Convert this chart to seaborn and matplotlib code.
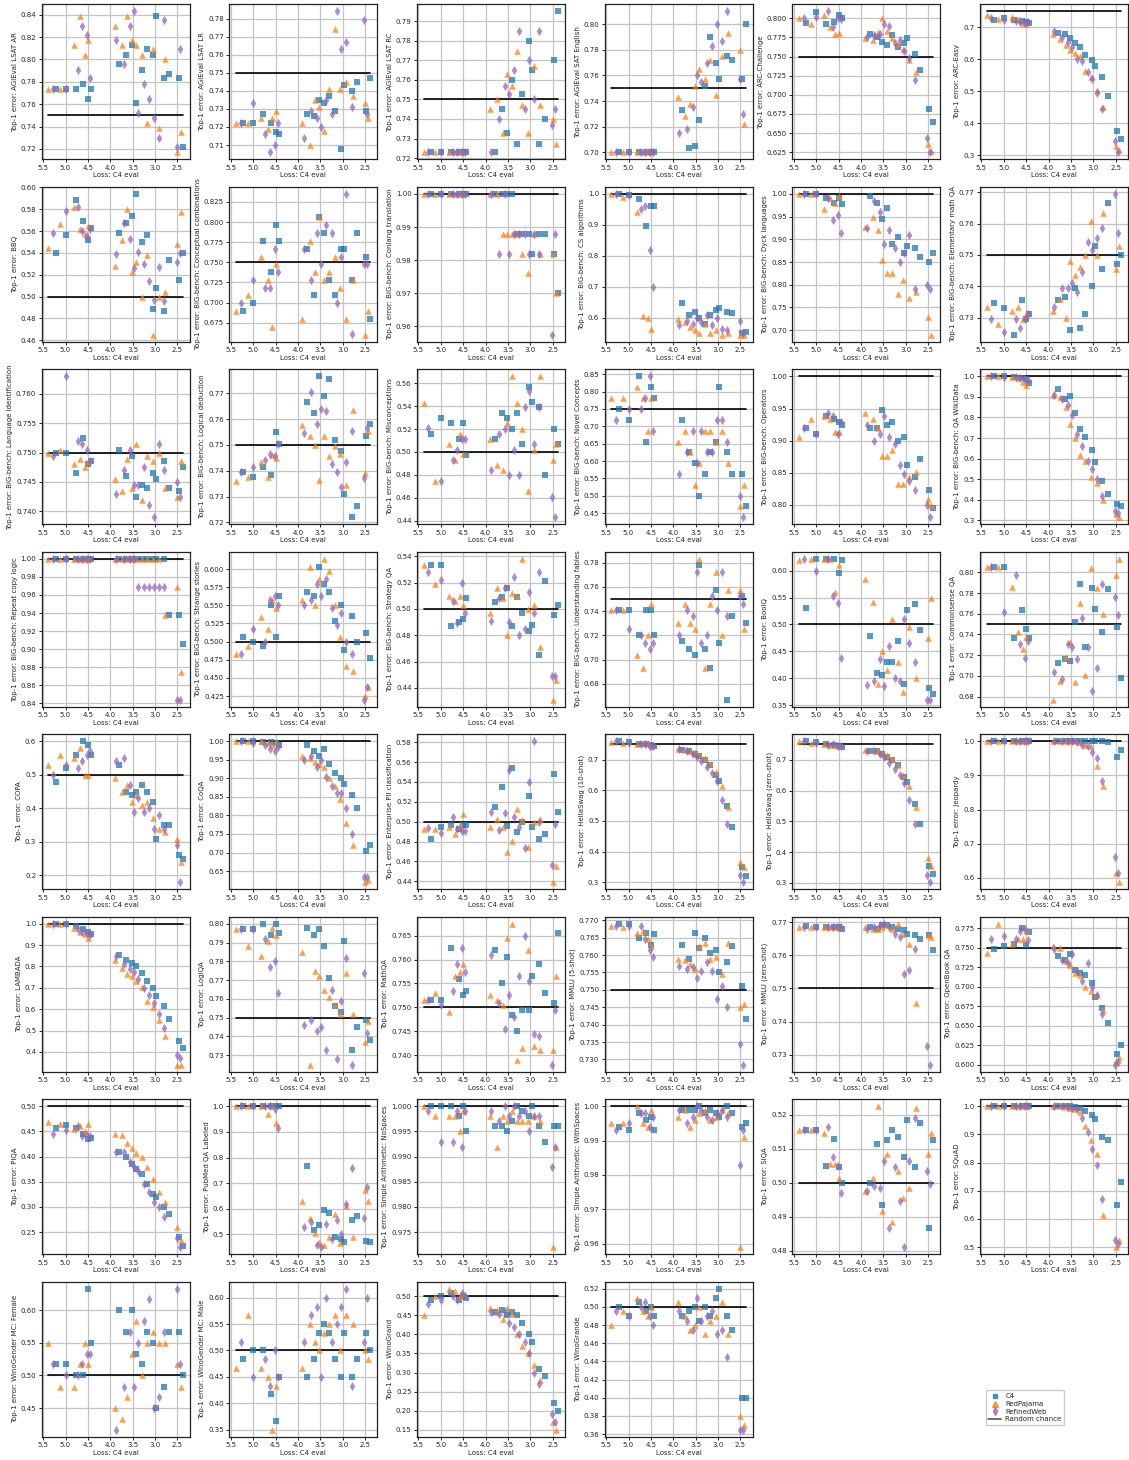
import matplotlib
matplotlib.use("Agg")
import matplotlib.pyplot as plt
from matplotlib.lines import Line2D
import seaborn as sns

# ── DATA ───────────────────────────────────────────────────────────────────
# x = loss on C4 eval, one entry per trained model (same models on every task)
C4_X = [5.22, 5.0, 4.77, 4.6, 4.5, 4.43, 3.8, 3.64, 3.52, 3.42, 3.3, 3.18, 3.04, 2.97, 2.8, 2.68, 2.47, 2.38]
RP_X = [5.38, 5.12, 4.82, 4.68, 4.57, 4.5, 3.9, 3.74, 3.62, 3.52, 3.42, 3.3, 3.18, 3.05, 2.92, 2.78, 2.5, 2.43]
RW_X = [5.28, 5.0, 4.73, 4.63, 4.52, 4.45, 3.87, 3.7, 3.57, 3.48, 3.37, 3.25, 3.13, 3.03, 2.92, 2.8, 2.52, 2.45]

TASKS = [
    "AGIEval LSAT AR", "AGIEval LSAT LR", "AGIEval LSAT RC", "AGIEval SAT English", "ARC-Challenge", "ARC-Easy",
    "BBQ", "BIG-bench: Conceptual combinations", "BIG-bench: Conlang translation", "BIG-bench: CS algorithms",
    "BIG-bench: Dyck languages", "BIG-bench: Elementary math QA",
    "BIG-bench: Language identification", "BIG-bench: Logical deduction", "BIG-bench: Misconceptions",
    "BIG-bench: Novel Concepts", "BIG-bench: Operators", "BIG-bench: QA WikiData",
    "BIG-bench: Repeat copy logic", "BIG-bench: Strange stories", "BIG-bench: Strategy QA",
    "BIG-bench: Understanding fables", "BoolQ", "Commonsense QA",
    "COPA", "CoQA", "Enterprise PII classification", "HellaSwag (10-shot)", "HellaSwag (zero-shot)", "Jeopardy",
    "LAMBADA", "LogiQA", "MathQA", "MMLU (5-shot)", "MMLU (zero-shot)", "OpenBook QA",
    "PIQA", "PubMed QA Labeled", "Simple Arithmetic: NoSpaces", "Simple Arithmetic: WithSpaces", "SIQA", "SQuAD",
    "WinoGender MC: Female", "WinoGender MC: Male", "WinoGrand", "WinoGrande",
]

CHANCE = [0.75, 0.75, 0.75, 0.75, 0.75, 0.75,
          0.5, 0.75, 1.0, 1.0, 1.0, 0.75,
          0.75, 0.75, 0.5, 0.75, 1.0, 1.0,
          1.0, 0.5, 0.5, 0.75, 0.5, 0.75,
          0.5, 1.0, 0.5, 0.75, 0.75, 1.0,
          1.0, 0.75, 0.75, 0.75, 0.75, 0.75,
          0.5, 1.0, 1.0, 1.0, 0.5, 1.0,
          0.5, 0.5, 0.5, 0.5]

# top-1 error per task (rows follow TASKS), C4-trained models
C4_ERR = [
    [0.774, 0.774, 0.774, 0.778, 0.765, 0.774, 0.796, 0.804, 0.813, 0.761, 0.791, 0.809, 0.804, 0.839, 0.783, 0.787, 0.783, 0.722],
    [0.722, 0.722, 0.727, 0.722, 0.717, 0.716, 0.727, 0.726, 0.735, 0.733, 0.737, 0.729, 0.708, 0.743, 0.740, 0.745, 0.729, 0.747],
    [0.723, 0.723, 0.723, 0.723, 0.723, 0.723, 0.723, 0.745, 0.733, 0.760, 0.727, 0.753, 0.780, 0.765, 0.727, 0.740, 0.770, 0.795],
    [0.700, 0.700, 0.700, 0.700, 0.700, 0.700, 0.733, 0.703, 0.705, 0.725, 0.752, 0.790, 0.770, 0.757, 0.775, 0.772, 0.757, 0.800],
    [0.794, 0.808, 0.793, 0.795, 0.804, 0.801, 0.779, 0.776, 0.769, 0.765, 0.778, 0.763, 0.768, 0.774, 0.754, 0.732, 0.682, 0.664],
    [0.723, 0.730, 0.722, 0.720, 0.718, 0.715, 0.683, 0.680, 0.667, 0.652, 0.640, 0.613, 0.597, 0.580, 0.545, 0.485, 0.375, 0.352],
    [0.540, 0.556, 0.588, 0.569, 0.552, 0.563, 0.558, 0.567, 0.574, 0.594, 0.550, 0.556, 0.489, 0.508, 0.487, 0.533, 0.515, 0.540],
    [0.690, 0.699, 0.777, 0.738, 0.796, 0.777, 0.767, 0.709, 0.806, 0.786, 0.728, 0.709, 0.767, 0.767, 0.728, 0.786, 0.757, 0.680],
    [1.0, 1.0, 1.0, 1.0, 1.0, 1.0, 1.0, 1.0, 1.0, 1.0, 0.988, 0.988, 0.988, 0.982, 0.988, 0.988, 0.982, 0.970],
    [1.0, 0.997, 0.985, 0.895, 0.960, 0.962, 0.648, 0.610, 0.620, 0.600, 0.580, 0.610, 0.625, 0.630, 0.620, 0.615, 0.550, 0.555],
    [1.0, 1.0, 0.990, 0.980, 0.990, 0.978, 0.995, 0.980, 0.945, 0.970, 0.890, 0.905, 0.870, 0.885, 0.880, 0.860, 0.850, 0.870],
    [0.7345, 0.733, 0.7245, 0.7355, 0.7295, 0.731, 0.7355, 0.7365, 0.726, 0.7395, 0.7265, 0.731, 0.740, 0.753, 0.7455, 0.7665, 0.747, 0.750],
    [0.750, 0.750, 0.7465, 0.7525, 0.748, 0.7485, 0.7505, 0.746, 0.7495, 0.7425, 0.7445, 0.744, 0.7465, 0.7455, 0.7485, 0.744, 0.7435, 0.7475],
    [0.7395, 0.7375, 0.7415, 0.7385, 0.755, 0.7505, 0.7665, 0.7625, 0.7765, 0.769, 0.7755, 0.752, 0.7475, 0.731, 0.722, 0.7265, 0.7535, 0.758],
    [0.516, 0.530, 0.525, 0.511, 0.525, 0.497, 0.511, 0.534, 0.530, 0.520, 0.534, 0.507, 0.557, 0.544, 0.539, 0.480, 0.520, 0.507],
    [0.750, 0.719, 0.844, 0.656, 0.812, 0.781, 0.719, 0.625, 0.594, 0.500, 0.5625, 0.625, 0.656, 0.812, 0.625, 0.5625, 0.5625, 0.469],
    [0.919, 0.910, 0.938, 0.933, 0.929, 0.924, 0.919, 0.919, 0.948, 0.924, 0.929, 0.900, 0.905, 0.862, 0.843, 0.871, 0.824, 0.795],
    [1.0, 1.0, 0.998, 0.990, 0.985, 0.970, 0.940, 0.890, 0.905, 0.820, 0.745, 0.705, 0.640, 0.585, 0.490, 0.430, 0.380, 0.370],
    [1.0, 1.0, 1.0, 1.0, 1.0, 1.0, 1.0, 1.0, 1.0, 1.0, 1.0, 1.0, 1.0, 1.0, 1.0, 0.9375, 0.9375, 0.906],
    [0.506, 0.500, 0.494, 0.551, 0.506, 0.563, 0.569, 0.563, 0.603, 0.580, 0.569, 0.529, 0.551, 0.488, 0.535, 0.500, 0.512, 0.477],
    [0.533, 0.533, 0.487, 0.490, 0.492, 0.508, 0.505, 0.509, 0.516, 0.487, 0.509, 0.497, 0.483, 0.488, 0.465, 0.521, 0.495, 0.503],
    [0.741, 0.741, 0.720, 0.741, 0.741, 0.720, 0.715, 0.709, 0.704, 0.778, 0.709, 0.693, 0.757, 0.714, 0.667, 0.736, 0.752, 0.730],
    [0.530, 0.622, 0.622, 0.622, 0.595, 0.620, 0.478, 0.410, 0.405, 0.430, 0.430, 0.470, 0.390, 0.527, 0.538, 0.490, 0.382, 0.370],
    [0.805, 0.805, 0.737, 0.764, 0.745, 0.737, 0.712, 0.716, 0.714, 0.752, 0.789, 0.728, 0.785, 0.765, 0.742, 0.784, 0.747, 0.698],
    [0.48, 0.52, 0.56, 0.60, 0.59, 0.56, 0.53, 0.45, 0.44, 0.45, 0.47, 0.45, 0.42, 0.31, 0.35, 0.35, 0.26, 0.25],
    [1.0, 1.0, 0.998, 0.998, 0.995, 0.990, 0.990, 0.975, 0.960, 0.978, 0.938, 0.915, 0.900, 0.885, 0.855, 0.820, 0.705, 0.720],
    [0.483, 0.495, 0.497, 0.493, 0.497, 0.497, 0.515, 0.535, 0.496, 0.554, 0.490, 0.500, 0.526, 0.495, 0.483, 0.488, 0.548, 0.510],
    [0.760, 0.758, 0.750, 0.750, 0.748, 0.745, 0.733, 0.728, 0.720, 0.713, 0.700, 0.683, 0.650, 0.630, 0.550, 0.480, 0.350, 0.320],
    [0.760, 0.758, 0.750, 0.748, 0.745, 0.743, 0.730, 0.728, 0.718, 0.710, 0.700, 0.683, 0.645, 0.628, 0.555, 0.490, 0.355, 0.330],
    [1.0, 1.0, 1.0, 1.0, 1.0, 1.0, 1.0, 1.0, 1.0, 1.0, 1.0, 1.0, 1.0, 1.0, 1.0, 0.998, 0.955, 0.975],
    [1.0, 1.0, 0.990, 0.975, 0.960, 0.950, 0.855, 0.830, 0.815, 0.800, 0.770, 0.730, 0.700, 0.660, 0.615, 0.555, 0.450, 0.420],
    [0.797, 0.797, 0.800, 0.794, 0.800, 0.795, 0.798, 0.794, 0.797, 0.788, 0.771, 0.756, 0.753, 0.791, 0.733, 0.745, 0.749, 0.738],
    [0.7515, 0.7515, 0.7625, 0.756, 0.7525, 0.7535, 0.762, 0.755, 0.7605, 0.7485, 0.745, 0.7495, 0.7495, 0.7565, 0.759, 0.753, 0.751, 0.7655],
    [0.769, 0.769, 0.765, 0.7665, 0.763, 0.766, 0.763, 0.759, 0.7665, 0.762, 0.765, 0.7605, 0.7615, 0.755, 0.758, 0.7625, 0.751, 0.7415],
    [0.7687, 0.7685, 0.7685, 0.7685, 0.7685, 0.768, 0.7685, 0.768, 0.769, 0.769, 0.7685, 0.768, 0.7675, 0.7665, 0.766, 0.765, 0.766, 0.7615],
    [0.748, 0.752, 0.755, 0.776, 0.754, 0.770, 0.740, 0.735, 0.742, 0.722, 0.718, 0.715, 0.705, 0.687, 0.673, 0.654, 0.614, 0.625],
    [0.457, 0.462, 0.457, 0.445, 0.435, 0.437, 0.409, 0.400, 0.385, 0.375, 0.365, 0.345, 0.325, 0.320, 0.300, 0.285, 0.240, 0.222],
    [1.0, 1.0, 1.0, 1.0, 1.0, 1.0, 0.765, 0.515, 0.535, 0.595, 0.585, 0.490, 0.480, 0.470, 0.555, 0.570, 0.475, 0.470],
    [1.0, 1.0, 1.0, 0.998, 1.0, 0.995, 0.996, 0.996, 0.995, 0.997, 1.0, 0.999, 0.998, 1.0, 0.996, 0.993, 0.996, 0.996],
    [0.994, 0.993, 0.998, 0.996, 0.997, 0.993, 0.999, 0.999, 0.999, 1.0, 0.998, 0.999, 0.998, 0.997, 1.0, 0.998, 0.994, 0.995],
    [0.5155, 0.5155, 0.505, 0.513, 0.5045, 0.500, 0.500, 0.5115, 0.4935, 0.5125, 0.5155, 0.5135, 0.5075, 0.5185, 0.5045, 0.5175, 0.4865, 0.5125],
    [1.0, 1.0, 1.0, 1.0, 1.0, 1.0, 1.0, 1.0, 1.0, 0.998, 0.995, 0.985, 0.970, 0.955, 0.890, 0.880, 0.650, 0.730],
    [0.517, 0.517, 0.500, 0.500, 0.633, 0.550, 0.600, 0.567, 0.600, 0.533, 0.517, 0.567, 0.550, 0.450, 0.483, 0.567, 0.567, 0.500],
    [0.483, 0.500, 0.500, 0.417, 0.367, 0.450, 0.450, 0.483, 0.533, 0.550, 0.533, 0.483, 0.450, 0.533, 0.450, 0.483, 0.533, 0.500],
    [0.49, 0.50, 0.51, 0.49, 0.50, 0.495, 0.46, 0.465, 0.45, 0.46, 0.45, 0.43, 0.40, 0.38, 0.31, 0.29, 0.22, 0.20],
    [0.50, 0.49, 0.505, 0.495, 0.50, 0.49, 0.49, 0.495, 0.50, 0.485, 0.50, 0.49, 0.51, 0.52, 0.49, 0.475, 0.40, 0.40],
]

# RedPajama-trained models
RP_ERR = [
    [0.774, 0.774, 0.813, 0.839, 0.804, 0.817, 0.830, 0.813, 0.839, 0.817, 0.813, 0.804, 0.743, 0.809, 0.739, 0.800, 0.717, 0.735],
    [0.722, 0.722, 0.725, 0.719, 0.725, 0.729, 0.722, 0.710, 0.735, 0.731, 0.718, 0.741, 0.774, 0.741, 0.745, 0.737, 0.733, 0.725],
    [0.723, 0.723, 0.723, 0.723, 0.723, 0.723, 0.745, 0.750, 0.733, 0.763, 0.757, 0.775, 0.747, 0.733, 0.767, 0.747, 0.740, 0.727],
    [0.700, 0.700, 0.700, 0.700, 0.700, 0.700, 0.743, 0.728, 0.738, 0.752, 0.765, 0.757, 0.772, 0.745, 0.775, 0.793, 0.780, 0.722],
    [0.800, 0.792, 0.804, 0.789, 0.780, 0.781, 0.774, 0.772, 0.782, 0.800, 0.783, 0.774, 0.766, 0.760, 0.745, 0.730, 0.636, 0.626],
    [0.740, 0.725, 0.732, 0.725, 0.715, 0.710, 0.680, 0.665, 0.645, 0.628, 0.620, 0.612, 0.565, 0.545, 0.505, 0.450, 0.330, 0.318],
    [0.544, 0.566, 0.582, 0.562, 0.557, 0.565, 0.528, 0.552, 0.580, 0.522, 0.532, 0.500, 0.538, 0.465, 0.500, 0.504, 0.548, 0.577],
    [0.689, 0.709, 0.757, 0.728, 0.670, 0.748, 0.680, 0.777, 0.738, 0.806, 0.728, 0.738, 0.757, 0.718, 0.680, 0.728, 0.660, 0.689],
    [1.0, 1.0, 1.0, 1.0, 1.0, 1.0, 1.0, 1.0, 0.988, 0.988, 0.988, 0.988, 0.982, 0.976, 0.988, 0.982, 0.982, 0.970],
    [1.0, 0.990, 0.943, 0.605, 0.600, 0.565, 0.595, 0.585, 0.570, 0.560, 0.550, 0.580, 0.550, 0.560, 0.545, 0.550, 0.545, 0.545],
    [1.0, 1.0, 0.967, 0.990, 0.980, 0.995, 0.928, 0.950, 0.920, 0.855, 0.825, 0.825, 0.780, 0.810, 0.770, 0.785, 0.730, 0.690],
    [0.7335, 0.728, 0.732, 0.7335, 0.7295, 0.731, 0.732, 0.736, 0.730, 0.748, 0.7435, 0.746, 0.750, 0.761, 0.750, 0.7635, 0.7455, 0.753],
    [0.750, 0.7505, 0.748, 0.749, 0.7475, 0.7485, 0.7455, 0.7435, 0.749, 0.744, 0.7515, 0.742, 0.7495, 0.7485, 0.750, 0.744, 0.7425, 0.7485],
    [0.736, 0.7375, 0.7435, 0.7375, 0.746, 0.745, 0.7575, 0.7535, 0.750, 0.7365, 0.7535, 0.7455, 0.7495, 0.7465, 0.7345, 0.7635, 0.739, 0.7555],
    [0.543, 0.475, 0.507, 0.493, 0.516, 0.498, 0.511, 0.489, 0.484, 0.525, 0.566, 0.543, 0.520, 0.466, 0.502, 0.566, 0.493, 0.507],
    [0.781, 0.781, 0.812, 0.781, 0.6875, 0.781, 0.656, 0.6875, 0.625, 0.531, 0.594, 0.6875, 0.6875, 0.656, 0.6875, 0.594, 0.469, 0.531],
    [0.905, 0.933, 0.938, 0.933, 0.914, 0.914, 0.943, 0.933, 0.919, 0.876, 0.876, 0.886, 0.833, 0.833, 0.843, 0.852, 0.810, 0.800],
    [1.0, 1.0, 0.995, 0.990, 0.975, 0.960, 0.910, 0.900, 0.850, 0.770, 0.700, 0.620, 0.590, 0.510, 0.480, 0.400, 0.330, 0.315],
    [1.0, 1.0, 1.0, 1.0, 1.0, 1.0, 1.0, 1.0, 1.0, 1.0, 1.0, 1.0, 1.0, 1.0, 1.0, 0.9375, 0.969, 0.875],
    [0.483, 0.494, 0.534, 0.517, 0.557, 0.546, 0.557, 0.603, 0.551, 0.586, 0.614, 0.597, 0.551, 0.506, 0.466, 0.460, 0.425, 0.437],
    [0.533, 0.519, 0.510, 0.506, 0.510, 0.503, 0.497, 0.516, 0.508, 0.480, 0.512, 0.510, 0.538, 0.500, 0.503, 0.471, 0.431, 0.446],
    [0.741, 0.741, 0.704, 0.693, 0.720, 0.746, 0.730, 0.746, 0.730, 0.725, 0.783, 0.693, 0.746, 0.772, 0.720, 0.757, 0.757, 0.725],
    [0.620, 0.622, 0.622, 0.622, 0.560, 0.610, 0.585, 0.541, 0.390, 0.450, 0.415, 0.510, 0.430, 0.375, 0.495, 0.400, 0.475, 0.550],
    [0.805, 0.805, 0.786, 0.742, 0.726, 0.738, 0.677, 0.695, 0.718, 0.733, 0.694, 0.770, 0.701, 0.804, 0.785, 0.760, 0.797, 0.813],
    [0.53, 0.56, 0.55, 0.58, 0.50, 0.50, 0.49, 0.45, 0.47, 0.42, 0.44, 0.41, 0.42, 0.37, 0.34, 0.33, 0.31, 0.24],
    [1.0, 1.0, 1.0, 0.995, 0.990, 0.997, 0.960, 0.955, 0.945, 0.940, 0.930, 0.900, 0.880, 0.845, 0.780, 0.720, 0.620, 0.625],
    [0.493, 0.493, 0.495, 0.488, 0.497, 0.508, 0.495, 0.503, 0.495, 0.469, 0.481, 0.513, 0.502, 0.474, 0.500, 0.503, 0.439, 0.455],
    [0.758, 0.756, 0.752, 0.755, 0.750, 0.745, 0.735, 0.733, 0.730, 0.725, 0.715, 0.705, 0.685, 0.660, 0.615, 0.545, 0.365, 0.350],
    [0.760, 0.756, 0.750, 0.748, 0.748, 0.745, 0.733, 0.733, 0.728, 0.722, 0.715, 0.702, 0.682, 0.652, 0.615, 0.548, 0.380, 0.355],
    [1.0, 1.0, 1.0, 1.0, 1.0, 1.0, 1.0, 1.0, 1.0, 1.0, 1.0, 0.997, 0.990, 0.985, 0.928, 0.870, 0.615, 0.587],
    [1.0, 1.0, 0.980, 0.960, 0.950, 0.935, 0.830, 0.795, 0.765, 0.755, 0.730, 0.705, 0.640, 0.610, 0.550, 0.475, 0.340, 0.340],
    [0.797, 0.788, 0.783, 0.791, 0.798, 0.794, 0.785, 0.725, 0.775, 0.772, 0.765, 0.761, 0.757, 0.752, 0.774, 0.752, 0.737, 0.748],
    [0.7515, 0.753, 0.749, 0.7565, 0.7575, 0.759, 0.7525, 0.7515, 0.7505, 0.7645, 0.7675, 0.739, 0.7415, 0.762, 0.742, 0.741, 0.741, 0.7565],
    [0.7685, 0.768, 0.7665, 0.767, 0.7645, 0.7625, 0.759, 0.7585, 0.7575, 0.756, 0.7625, 0.7635, 0.759, 0.7595, 0.7545, 0.7635, 0.745, 0.746],
    [0.7685, 0.7685, 0.7685, 0.7685, 0.7685, 0.7685, 0.7685, 0.768, 0.768, 0.7685, 0.769, 0.768, 0.7695, 0.7665, 0.7635, 0.7455, 0.766, 0.7655],
    [0.744, 0.781, 0.755, 0.762, 0.762, 0.772, 0.752, 0.750, 0.733, 0.728, 0.718, 0.715, 0.700, 0.695, 0.690, 0.670, 0.605, 0.610],
    [0.469, 0.465, 0.455, 0.460, 0.450, 0.465, 0.444, 0.443, 0.428, 0.418, 0.408, 0.400, 0.380, 0.355, 0.330, 0.310, 0.260, 0.235],
    [1.0, 1.0, 1.0, 0.970, 1.0, 0.935, 0.630, 0.565, 0.505, 0.470, 0.460, 0.490, 0.580, 0.465, 0.610, 0.490, 0.675, 0.630],
    [1.0, 0.998, 0.998, 0.998, 0.995, 0.999, 0.998, 0.992, 0.998, 0.997, 0.999, 0.997, 0.997, 0.997, 0.998, 0.997, 0.972, 0.992],
    [0.995, 0.995, 1.0, 0.995, 0.994, 0.999, 0.997, 0.999, 0.994, 0.996, 0.998, 0.999, 0.996, 0.997, 0.999, 0.998, 0.959, 0.991],
    [0.5155, 0.5155, 0.5145, 0.5055, 0.5055, 0.5015, 0.4975, 0.5015, 0.5225, 0.4915, 0.5085, 0.4885, 0.5035, 0.4955, 0.4985, 0.522, 0.5085, 0.5145],
    [1.0, 1.0, 1.0, 1.0, 1.0, 1.0, 1.0, 1.0, 0.998, 0.995, 0.990, 0.980, 0.930, 0.880, 0.830, 0.615, 0.500, 0.525],
    [0.550, 0.483, 0.483, 0.517, 0.550, 0.517, 0.450, 0.433, 0.467, 0.533, 0.583, 0.500, 0.550, 0.567, 0.550, 0.550, 0.517, 0.483],
    [0.467, 0.567, 0.467, 0.450, 0.350, 0.433, 0.467, 0.550, 0.517, 0.500, 0.533, 0.550, 0.567, 0.500, 0.567, 0.550, 0.500, 0.483],
    [0.45, 0.50, 0.52, 0.515, 0.50, 0.505, 0.47, 0.465, 0.44, 0.47, 0.455, 0.40, 0.37, 0.35, 0.32, 0.28, 0.17, 0.15],
    [0.48, 0.495, 0.51, 0.495, 0.49, 0.50, 0.505, 0.49, 0.475, 0.48, 0.50, 0.47, 0.485, 0.49, 0.505, 0.47, 0.38, 0.37],
]

# RefinedWeb-trained models
RW_ERR = [
    [0.774, 0.774, 0.791, 0.830, 0.822, 0.783, 0.817, 0.796, 0.830, 0.843, 0.752, 0.778, 0.765, 0.748, 0.730, 0.835, 0.722, 0.809],
    [0.722, 0.733, 0.716, 0.706, 0.710, 0.722, 0.714, 0.729, 0.725, 0.720, 0.735, 0.727, 0.784, 0.763, 0.767, 0.731, 0.779, 0.727],
    [0.723, 0.723, 0.723, 0.723, 0.723, 0.723, 0.723, 0.740, 0.757, 0.753, 0.765, 0.785, 0.745, 0.770, 0.750, 0.785, 0.737, 0.745],
    [0.700, 0.700, 0.700, 0.700, 0.700, 0.700, 0.715, 0.718, 0.735, 0.760, 0.755, 0.770, 0.783, 0.800, 0.787, 0.810, 0.757, 0.730],
    [0.800, 0.802, 0.809, 0.788, 0.800, 0.799, 0.776, 0.778, 0.780, 0.792, 0.790, 0.768, 0.772, 0.757, 0.748, 0.720, 0.644, 0.625],
    [0.730, 0.724, 0.720, 0.718, 0.713, 0.716, 0.688, 0.670, 0.655, 0.640, 0.600, 0.595, 0.560, 0.540, 0.495, 0.445, 0.345, 0.310],
    [0.558, 0.578, 0.582, 0.560, 0.555, 0.562, 0.539, 0.567, 0.553, 0.526, 0.541, 0.530, 0.514, 0.497, 0.527, 0.496, 0.532, 0.540],
    [0.699, 0.728, 0.718, 0.718, 0.767, 0.738, 0.767, 0.728, 0.786, 0.748, 0.796, 0.786, 0.699, 0.757, 0.835, 0.661, 0.748, 0.748],
    [1.0, 1.0, 1.0, 1.0, 1.0, 1.0, 1.0, 0.982, 1.0, 0.982, 0.988, 0.988, 0.988, 0.982, 0.988, 0.982, 0.9575, 0.988],
    [1.0, 0.998, 0.950, 0.960, 0.820, 0.700, 0.575, 0.590, 0.580, 0.600, 0.585, 0.610, 0.575, 0.600, 0.565, 0.560, 0.590, 0.550],
    [1.0, 1.0, 0.990, 0.943, 0.953, 0.913, 0.925, 0.985, 0.960, 0.890, 0.920, 0.880, 0.850, 0.870, 0.910, 0.790, 0.800, 0.790],
    [0.7295, 0.7255, 0.7295, 0.7265, 0.7295, 0.731, 0.7335, 0.7395, 0.7395, 0.741, 0.738, 0.7445, 0.754, 0.7515, 0.7555, 0.7585, 0.7695, 0.757],
    [0.7495, 0.763, 0.752, 0.7515, 0.7505, 0.7485, 0.743, 0.747, 0.7505, 0.7445, 0.7445, 0.7475, 0.741, 0.739, 0.7515, 0.747, 0.745, 0.7425],
    [0.7395, 0.7415, 0.744, 0.7465, 0.7455, 0.7505, 0.7545, 0.7705, 0.758, 0.764, 0.763, 0.7425, 0.7395, 0.7335, 0.7435, 0.7555, 0.737, 0.7565],
    [0.521, 0.475, 0.493, 0.502, 0.511, 0.511, 0.484, 0.516, 0.520, 0.480, 0.502, 0.480, 0.539, 0.553, 0.507, 0.539, 0.461, 0.443],
    [0.719, 0.750, 0.750, 0.781, 0.844, 0.6875, 0.5625, 0.625, 0.6875, 0.594, 0.6875, 0.625, 0.625, 0.719, 0.719, 0.656, 0.500, 0.438],
    [0.919, 0.910, 0.943, 0.938, 0.910, 0.929, 0.924, 0.900, 0.910, 0.938, 0.905, 0.895, 0.862, 0.848, 0.838, 0.824, 0.800, 0.781],
    [1.0, 0.995, 0.995, 0.990, 0.985, 0.980, 0.910, 0.890, 0.860, 0.810, 0.720, 0.660, 0.590, 0.550, 0.500, 0.420, 0.345, 0.335],
    [1.0, 1.0, 1.0, 1.0, 1.0, 1.0, 1.0, 1.0, 1.0, 1.0, 0.969, 0.969, 0.969, 0.969, 0.969, 0.969, 0.844, 0.844],
    [0.483, 0.517, 0.500, 0.557, 0.563, 0.551, 0.551, 0.557, 0.580, 0.563, 0.586, 0.546, 0.523, 0.540, 0.500, 0.483, 0.420, 0.437],
    [0.528, 0.522, 0.506, 0.489, 0.520, 0.497, 0.491, 0.508, 0.516, 0.490, 0.524, 0.480, 0.485, 0.513, 0.497, 0.528, 0.449, 0.449],
    [0.741, 0.725, 0.720, 0.714, 0.709, 0.714, 0.720, 0.741, 0.736, 0.772, 0.714, 0.720, 0.752, 0.741, 0.772, 0.736, 0.752, 0.746],
    [0.622, 0.600, 0.622, 0.553, 0.540, 0.438, 0.387, 0.395, 0.435, 0.385, 0.460, 0.400, 0.395, 0.510, 0.465, 0.430, 0.360, 0.360],
    [0.805, 0.762, 0.797, 0.731, 0.717, 0.734, 0.704, 0.697, 0.731, 0.728, 0.716, 0.756, 0.728, 0.685, 0.708, 0.789, 0.776, 0.759],
    [0.50, 0.53, 0.52, 0.54, 0.56, 0.57, 0.54, 0.55, 0.47, 0.39, 0.43, 0.39, 0.40, 0.34, 0.38, 0.34, 0.29, 0.18],
    [1.0, 0.995, 0.990, 0.980, 0.975, 0.985, 0.950, 0.960, 0.930, 0.950, 0.905, 0.880, 0.860, 0.860, 0.820, 0.750, 0.635, 0.635],
    [0.494, 0.489, 0.505, 0.493, 0.491, 0.491, 0.510, 0.492, 0.509, 0.552, 0.505, 0.495, 0.473, 0.540, 0.581, 0.500, 0.456, 0.498],
    [0.760, 0.755, 0.750, 0.750, 0.745, 0.745, 0.735, 0.730, 0.720, 0.710, 0.695, 0.675, 0.655, 0.630, 0.570, 0.490, 0.325, 0.300],
    [0.760, 0.755, 0.748, 0.750, 0.745, 0.745, 0.730, 0.730, 0.718, 0.710, 0.690, 0.670, 0.650, 0.625, 0.570, 0.490, 0.325, 0.302],
    [1.0, 1.0, 1.0, 1.0, 1.0, 1.0, 1.0, 1.0, 1.0, 1.0, 0.998, 0.990, 0.985, 0.970, 0.950, 0.885, 0.662, 0.615],
    [1.0, 1.0, 0.975, 0.960, 0.955, 0.948, 0.850, 0.810, 0.790, 0.775, 0.740, 0.700, 0.665, 0.630, 0.575, 0.510, 0.385, 0.370],
    [0.797, 0.797, 0.792, 0.777, 0.780, 0.763, 0.746, 0.749, 0.743, 0.745, 0.733, 0.765, 0.728, 0.759, 0.782, 0.725, 0.774, 0.742],
    [0.7515, 0.7505, 0.7535, 0.759, 0.7625, 0.7575, 0.761, 0.751, 0.7455, 0.7525, 0.748, 0.7565, 0.765, 0.7555, 0.7445, 0.744, 0.738, 0.7495],
    [0.7685, 0.7685, 0.7685, 0.7645, 0.7615, 0.7595, 0.757, 0.756, 0.7565, 0.7535, 0.7555, 0.758, 0.7555, 0.7475, 0.751, 0.745, 0.7345, 0.7285],
    [0.7685, 0.7685, 0.7685, 0.7685, 0.7685, 0.7685, 0.768, 0.7685, 0.769, 0.7695, 0.7685, 0.7665, 0.7655, 0.7545, 0.7555, 0.762, 0.7325, 0.727],
    [0.762, 0.765, 0.762, 0.772, 0.774, 0.760, 0.749, 0.735, 0.730, 0.742, 0.720, 0.707, 0.730, 0.700, 0.690, 0.665, 0.600, 0.603],
    [0.444, 0.452, 0.460, 0.440, 0.443, 0.440, 0.410, 0.410, 0.390, 0.380, 0.372, 0.345, 0.330, 0.310, 0.300, 0.280, 0.238, 0.220],
    [1.0, 1.0, 1.0, 1.0, 0.990, 0.915, 0.530, 0.550, 0.460, 0.450, 0.540, 0.480, 0.555, 0.500, 0.620, 0.760, 0.565, 0.685],
    [0.999, 0.993, 0.993, 0.999, 0.992, 0.999, 0.999, 0.997, 1.0, 0.998, 1.0, 0.998, 0.999, 0.995, 0.998, 0.998, 0.988, 0.992],
    [0.993, 0.995, 0.998, 0.998, 0.994, 0.997, 0.999, 0.995, 0.997, 1.0, 0.999, 0.997, 0.996, 0.998, 0.999, 0.997, 0.983, 0.993],
    [0.5155, 0.5155, 0.5165, 0.5075, 0.505, 0.497, 0.4975, 0.499, 0.4985, 0.5065, 0.4865, 0.5045, 0.4945, 0.481, 0.5065, 0.519, 0.5035, 0.4995],
    [1.0, 1.0, 1.0, 1.0, 1.0, 1.0, 1.0, 1.0, 0.998, 0.995, 0.990, 0.960, 0.910, 0.850, 0.790, 0.670, 0.525, 0.510],
    [0.517, 0.500, 0.500, 0.517, 0.533, 0.533, 0.417, 0.483, 0.567, 0.483, 0.550, 0.583, 0.617, 0.450, 0.467, 0.567, 0.633, 0.517],
    [0.517, 0.450, 0.483, 0.433, 0.500, 0.450, 0.517, 0.567, 0.583, 0.450, 0.600, 0.517, 0.550, 0.583, 0.617, 0.433, 0.517, 0.600],
    [0.48, 0.49, 0.50, 0.49, 0.51, 0.50, 0.46, 0.455, 0.46, 0.43, 0.42, 0.40, 0.38, 0.35, 0.30, 0.27, 0.19, 0.17],
    [0.495, 0.49, 0.50, 0.505, 0.49, 0.48, 0.495, 0.485, 0.475, 0.51, 0.485, 0.49, 0.495, 0.47, 0.475, 0.445, 0.365, 0.365],
]

# ── STYLE ──────────────────────────────────────────────────────────────────
sns.set_style("ticks")
plt.rcParams.update({
    "font.family": ["DejaVu Sans"],
    "font.size": 5,
    "axes.linewidth": 0.9,
    "axes.edgecolor": "#222222",
    "xtick.labelsize": 5,
    "ytick.labelsize": 5,
    "xtick.major.size": 2.5,
    "ytick.major.size": 2.5,
    "xtick.major.width": 0.7,
    "ytick.major.width": 0.7,
    "grid.color": "#c4c4c4",
    "grid.linewidth": 0.9,
})

SERIES = [
    ("C4", C4_X, C4_ERR, "s", "#1f77b4", 20),
    ("RedPajama", RP_X, RP_ERR, "^", "#ff7f0e", 22),
    ("RefinedWeb", RW_X, RW_ERR, "d", "#9467bd", 22),
]

x_hi = max(C4_X + RP_X + RW_X)
x_lo = min(C4_X + RP_X + RW_X)

fig, axes = plt.subplots(8, 6, figsize=(11.29, 14.6))
fig.subplots_adjust(left=0.037, right=0.999, top=0.997, bottom=0.016,
                    wspace=0.27, hspace=0.178)
flat = axes.ravel()

for i, task in enumerate(TASKS):
    ax = flat[i]
    ax.grid(True, zorder=0)
    ax.set_axisbelow(True)
    for name, xs, errs, mk, col, size in SERIES:
        sns.scatterplot(x=xs, y=errs[i], marker=mk, color=col, s=size,
                        alpha=0.75, linewidth=0, ax=ax, zorder=3)
    ax.plot([x_hi, x_lo], [CHANCE[i], CHANCE[i]], color="black", lw=1.2, zorder=2)
    ax.set_xticks([5.5, 5.0, 4.5, 4.0, 3.5, 3.0, 2.5])
    ax.invert_xaxis()
    ax.set_xlabel("Loss: C4 eval", fontsize=5, labelpad=1)
    ax.set_ylabel(f"Top-1 error: {task}", fontsize=5, labelpad=2)
    ax.tick_params(pad=1.5)
    if ax.get_legend():
        ax.get_legend().remove()

for ax in flat[len(TASKS):]:
    ax.axis("off")

handles = [
    Line2D([], [], ls="none", marker="s", color="#1f77b4", alpha=0.75, markersize=3.5),
    Line2D([], [], ls="none", marker="^", color="#ff7f0e", alpha=0.75, markersize=4),
    Line2D([], [], ls="none", marker="d", color="#9467bd", alpha=0.75, markersize=4),
    Line2D([], [], color="#555555", lw=1.2),
]
fig.legend(handles, ["C4", "RedPajama", "RefinedWeb", "Random chance"],
           loc="upper left", bbox_to_anchor=(0.870, 0.050), fontsize=5,
           frameon=True, framealpha=1, edgecolor="#cccccc", fancybox=True,
           handlelength=1.8, borderpad=0.4, labelspacing=0.25, handletextpad=0.6)

fig.savefig("out.png", dpi=100)
